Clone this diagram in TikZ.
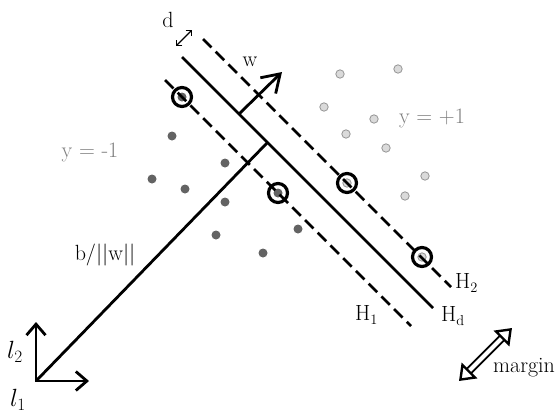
\documentclass[tikz,border=0pt]{standalone}
\usetikzlibrary{arrows.meta}
\definecolor{dotdark}{RGB}{99,99,99}
\definecolor{dotlight}{RGB}{218,218,218}
\definecolor{dotrim}{RGB}{150,150,150}
\definecolor{labelgray}{RGB}{128,128,128}

\begin{document}
\begin{tikzpicture}[x=1pt,y=-1pt,
    mdot/.style={circle, fill=dotdark, minimum size=9pt, inner sep=0pt},
    pdot/.style={circle, fill=dotlight, draw=dotrim, line width=0.8pt, minimum size=8.4pt, inner sep=0pt},
    sv/.style={circle, draw=black, line width=3.2pt, minimum size=19pt, inner sep=0pt},
    lbl/.style={inner sep=0pt, font=\fontsize{22}{26}\selectfont},
    plane/.style={line width=2.8pt},
    margplane/.style={line width=2.8pt, dash pattern=on 12pt off 6pt}]
    \useasboundingbox (0,0) rectangle (559,415);
    % negative class
    \node[mdot] (m1) at (172,136) {};
    \node[mdot] (m2) at (225,163) {};
    \node[mdot] (m3) at (152,179) {};
    \node[mdot] (m4) at (185,189) {};
    \node[mdot] (m5) at (225,202) {};
    \node[mdot] (m6) at (216,235) {};
    \node[mdot] (m7) at (298,229) {};
    \node[mdot] (m8) at (263,253) {};
    \node[mdot] (m9) at (182,97) {};
    \node[mdot] (m10) at (278,193) {};
    % positive class
    \node[pdot] (p1) at (340,74) {};
    \node[pdot] (p2) at (398,69) {};
    \node[pdot] (p3) at (324,107) {};
    \node[pdot] (p4) at (374,119) {};
    \node[pdot] (p5) at (346,134) {};
    \node[pdot] (p6) at (386,148) {};
    \node[pdot] (p7) at (425,176) {};
    \node[pdot] (p8) at (405,196) {};
    \node[pdot] (p9) at (347,183) {};
    \node[pdot] (p10) at (422,257) {};
    % hyperplanes
    \coordinate (hd1) at (182,57);
    \coordinate (hd2) at (433,308);
    \coordinate (ha1) at (203,39);
    \coordinate (ha2) at (451,287);
    \coordinate (hb1) at (165,80);
    \coordinate (hb2) at (411,326);
    \draw[plane] (hd1) -- (hd2);
    \draw[margplane] (ha1) -- (ha2);
    \draw[margplane] (hb1) -- (hb2);
    % support vectors
    \node[sv] (sv1) at (m9) {};
    \node[sv] (sv2) at (m10) {};
    \node[sv] (sv3) at (p9) {};
    \node[sv] (sv4) at (p10) {};
    % normal vector and offset
    \coordinate (o) at (36,381);
    \coordinate (foot) at (267,143);
    \coordinate (wbase) at (239,114);
    \coordinate (wtip) at (282,72);
    \draw[plane] (o) -- (foot);
    \draw[plane, -{Straight Barb[length=17pt,width=22pt]}] (wbase) -- (wtip);
    % axes
    \coordinate (l2tip) at (36,322);
    \coordinate (l1tip) at (89,381);
    \draw[plane, {Straight Barb[length=11pt,width=19pt]}-{Straight Barb[length=11pt,width=19pt]}] (l2tip) -- (o) -- (l1tip);
    % distance d
    \coordinate (d1) at (176,46);
    \coordinate (d2) at (192,30);
    \draw[line width=1.3pt, {Straight Barb[length=4pt,width=8pt]}-{Straight Barb[length=4pt,width=8pt]}] (d1) -- (d2);
    % margin arrow
    \coordinate (mg1) at (459,381);
    \coordinate (mg2) at (512,328);
    \draw[double, double distance=4pt, line width=2pt,
          {Triangle[open, length=15pt, width=22pt, line width=2.4pt]}-{Triangle[open, length=15pt, width=22pt, line width=2.4pt]}] (mg1) -- (mg2);
    % labels
    \node[lbl] (dlab) at (168,20) {d};
    \node[lbl] (wlab) at (250,62) {w};
    \node[lbl, text=labelgray] (neglab) at (90,152) {y = -1};
    \node[lbl, text=labelgray] (poslab) at (432,118) {y = +1};
    \node[lbl] (blab) at (105,255) {b/||w||};
    \node[lbl, anchor=west] (h2lab) at (455,283) {H$_2$};
    \node[lbl, anchor=west] (hdlab) at (441,316) {H$_\mathrm{d}$};
    \node[lbl, anchor=west] (h1lab) at (355,315) {H$_1$};
    \node[lbl, anchor=west] (marglab) at (493,368) {margin};
    \node[lbl, font=\fontsize{25}{29}\selectfont] (l2lab) at (15,352) {$l_2$};
    \node[lbl, font=\fontsize{25}{29}\selectfont] (l1lab) at (18,400) {$l_1$};
\end{tikzpicture}
\end{document}
